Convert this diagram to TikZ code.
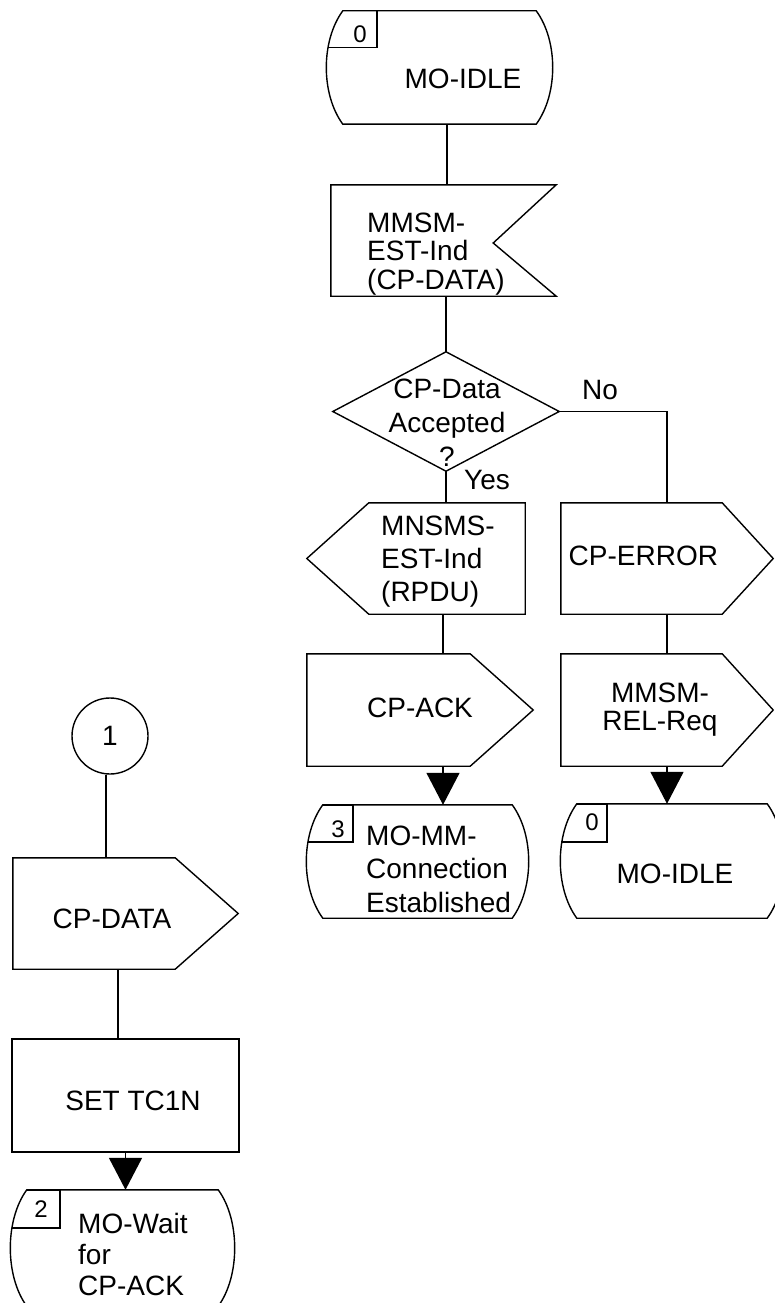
\documentclass[tikz,border=0pt]{standalone}
\usepackage{fontspec}
\setmainfont{Liberation Sans}
\usetikzlibrary{calc,arrows.meta}

\newcommand\ml[2]{\begin{tabular}[t]{@{}#1@{}}#2\end{tabular}}

% state symbol: #1 node, #2 number-box width, #3 number-box height
\newcommand\drawstate[3]{%
  \draw[shp] (#1.north west) -- (#1.north east)
    .. controls ($(#1.north east)+(22,30)$) and ($(#1.south east)+(22,-30)$) .. (#1.south east)
    -- (#1.south west)
    .. controls ($(#1.south west)+(-22,-30)$) and ($(#1.north west)+(-22,30)$) .. cycle;
  \begin{scope}
    \clip (#1.north west) -- (#1.north east)
      .. controls ($(#1.north east)+(22,30)$) and ($(#1.south east)+(22,-30)$) .. (#1.south east)
      -- (#1.south west)
      .. controls ($(#1.south west)+(-22,-30)$) and ($(#1.north west)+(-22,30)$) .. cycle;
    \draw[shp] ($(#1.north west)+(-30,0)$) rectangle ($(#1.north west)+(#2,#3)$);
  \end{scope}}

% signal pointing right: #1 node, #2 depth of point
\newcommand\drawout[2]{%
  \draw[shp] (#1.north west) -- ($(#1.north east)+(-#2,0)$) -- (#1.east)
    -- ($(#1.south east)+(-#2,0)$) -- (#1.south west) -- cycle;}

\begin{document}
\begin{tikzpicture}[x=1pt,y=-1pt,
  shp/.style={line width=1.4pt, line join=miter},
  box/.style={rectangle, inner sep=0pt, draw=none},
  conn/.style={line width=1.4pt},
  arr/.style={line width=1.4pt, -{Triangle[width=33pt,length=32pt]}},
  txt/.style={font=\fontsize{28}{33}\selectfont, inner sep=0pt, anchor=base},
  txtl/.style={txt, anchor=base west},
  num/.style={font=\fontsize{24}{28}\selectfont, inner sep=0pt, anchor=base}]
\useasboundingbox (0,0) rectangle (774,1303);

% ---------- shape nodes ----------
\node[box, minimum width=193pt, minimum height=113pt] (s0top) at (439.5,67.5) {};
\node[box, minimum width=225pt, minimum height=111pt] (in1) at (443.5,240.5) {};
\node[box, minimum width=226pt, minimum height=119pt] (dec) at (446,411.5) {};
\node[box, minimum width=218pt, minimum height=111pt] (rx) at (416,558.5) {};
\node[box, minimum width=212pt, minimum height=111pt] (err) at (667,558.5) {};
\node[box, minimum width=226pt, minimum height=112pt] (ack) at (420,710) {};
\node[box, minimum width=212pt, minimum height=112pt] (rel) at (667,710) {};
\node[box, minimum width=189pt, minimum height=113pt] (s3) at (417.5,861.5) {};
\node[box, minimum width=190pt, minimum height=114pt] (s0b) at (672,861) {};
\node[draw, circle, line width=1.4pt, minimum size=76pt, inner sep=0pt,
      font=\fontsize{28}{33}\selectfont] (c1) at (110,736) {1};
\node[box, minimum width=225pt, minimum height=111pt] (cpd) at (125.5,913.5) {};
\node[box, draw, line width=1.4pt, minimum width=227pt, minimum height=113pt] (set) at (125.5,1095.5) {};
\node[box, minimum width=191pt, minimum height=116pt] (s2) at (122.5,1248) {};

% ---------- outlines ----------
\drawstate{s0top}{34}{37}
\draw[shp] (in1.north west) -- (in1.north east) -- ($(in1.east)+(-63,2.5)$)
  -- (in1.south east) -- (in1.south west) -- cycle;
\draw[shp] (dec.north) -- (dec.east) -- (dec.south) -- (dec.west) -- cycle;
\draw[shp] (rx.west) -- ($(rx.north west)+(62,0)$) -- (rx.north east)
  -- (rx.south east) -- ($(rx.south west)+(62,0)$) -- cycle;
\drawout{err}{51}
\drawout{ack}{63}
\drawout{rel}{51}
\drawstate{s3}{30}{37}
\drawstate{s0b}{30}{38}
\drawout{cpd}{63}
\drawstate{s2}{33}{38}

% ---------- texts ----------
\node[num] (n0top) at (360,43) {0};
\node[txt] (t0top) at (463,89) {MO-IDLE};
\node[txtl, font=\fontsize{28}{28}\selectfont] (tin1) at (367,232) {\ml{l}{MMSM-\\EST-Ind\\(CP-DATA)}};
\node[txt, font=\fontsize{28}{34}\selectfont] (tdec) at (447,398) {\ml{c}{CP-Data\\Accepted\\?}};
\node[txt] (tno) at (600,399) {No};
\node[txt] (tyes) at (487,489) {Yes};
\node[txtl, font=\fontsize{28}{33}\selectfont] (trx) at (381,535) {\ml{l}{MNSMS-\\EST-Ind\\(RPDU)}};
\node[txtl] (terr) at (568.5,565) {CP-ERROR};
\node[txt] (tack) at (420,717) {CP-ACK};
\node[txt, font=\fontsize{28}{28}\selectfont] (trel) at (660,702) {\ml{c}{MMSM-\\REL-Req}};
\node[num] (n3) at (338,837) {3};
\node[txtl, font=\fontsize{28}{33.5}\selectfont] (t3) at (366,845) {\ml{l}{MO-MM-\\Connection\\Established}};
\node[num] (n0b) at (592,830) {0};
\node[txt] (t0b) at (675,883) {MO-IDLE};
\node[txt] (tcpd) at (112,928) {CP-DATA};
\node[txt] (tset) at (133,1110) {SET TC1N};
\node[num] (n2) at (41,1217) {2};
\node[txtl, font=\fontsize{28}{31}\selectfont] (t2) at (78,1233) {\ml{l}{MO-Wait\\for\\CP-ACK}};

% ---------- connectors ----------
\draw[conn] ([xshift=7.5pt]s0top.south) -- ([xshift=7.5pt]s0top.south |- in1.north);
\draw[conn] (dec.north |- in1.south) -- (dec.north);
\draw[conn] (dec.south) -- (dec.south |- rx.north);
\draw[conn] (dec.east) -| (err.north);
\draw[conn] ([xshift=27pt]rx.south) -- ([xshift=27pt]rx.south |- ack.north);
\draw[conn] (err.south) -- (rel.north);
\draw[arr] ([xshift=23pt]ack.south) -- ([xshift=23pt]ack.south |- s3.north);
\draw[arr] (rel.south) -- (rel.south |- s0b.north);
\draw[conn] ([xshift=-4pt]c1.south) -- ([xshift=-4pt]c1.south |- cpd.north);
\draw[conn] ([xshift=-7.5pt]cpd.south) -- ([xshift=-7.5pt]cpd.south |- set.north);
\draw[arr] (set.south) -- (set.south |- s2.north);
\end{tikzpicture}
\end{document}
